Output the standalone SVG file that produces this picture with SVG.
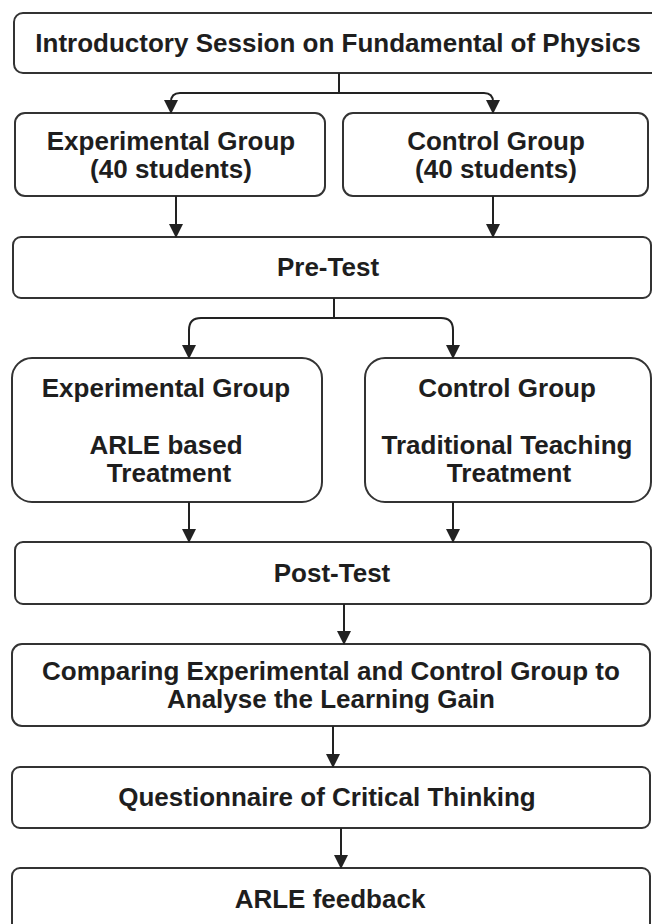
<svg xmlns="http://www.w3.org/2000/svg" width="652" height="924" viewBox="0 0 652 924">
<style>
  .box { fill: #ffffff; stroke: #333333; stroke-width: 2; }
  .lbl { font-family: "Liberation Sans", Arial, sans-serif; font-size: 26px; font-weight: bold; fill: #1e1e1e; text-anchor: middle; }
  .edge { fill: none; stroke: #222222; stroke-width: 2; }
</style>
<defs>
  <marker id="arr" viewBox="0 0 14 14" refX="13" refY="7" markerWidth="14" markerHeight="14" orient="auto" markerUnits="userSpaceOnUse">
    <path d="M0,0 L14,7 L0,14 Z" fill="#222222"/>
  </marker>
</defs>
<rect width="652" height="924" fill="#ffffff"/>

<g id="n-intro">
  <rect class="box" x="14" y="13" width="660" height="60" rx="9"/>
  <text class="lbl" x="338" y="52">Introductory Session on Fundamental of Physics</text>
</g>
<g id="n-exp1">
  <rect class="box" x="15" y="113" width="310" height="83" rx="10"/>
  <text class="lbl" x="171" y="150">Experimental Group</text>
  <text class="lbl" x="171" y="178">(40 students)</text>
</g>
<g id="n-ctl1">
  <rect class="box" x="343" y="113" width="305" height="83" rx="10"/>
  <text class="lbl" x="496" y="150">Control Group</text>
  <text class="lbl" x="496" y="178">(40 students)</text>
</g>
<g id="n-pre">
  <rect class="box" x="13" y="237" width="638" height="61" rx="8"/>
  <text class="lbl" x="328" y="276">Pre-Test</text>
</g>
<g id="n-exp2">
  <rect class="box" x="12" y="358" width="310" height="144" rx="20"/>
  <text class="lbl" x="166" y="397">Experimental Group</text>
  <text class="lbl" x="166" y="454">ARLE based</text>
  <text class="lbl" x="169" y="482">Treatment</text>
</g>
<g id="n-ctl2">
  <rect class="box" x="365" y="358" width="286" height="144" rx="20"/>
  <text class="lbl" x="507" y="397">Control Group</text>
  <text class="lbl" x="507" y="454">Traditional Teaching</text>
  <text class="lbl" x="509" y="482">Treatment</text>
</g>
<g id="n-post">
  <rect class="box" x="15" y="542" width="636" height="62" rx="8"/>
  <text class="lbl" x="332" y="582">Post-Test</text>
</g>
<g id="n-compare">
  <rect class="box" x="12" y="644" width="638" height="82" rx="10"/>
  <text class="lbl" x="331" y="680">Comparing Experimental and Control Group to</text>
  <text class="lbl" x="331" y="708">Analyse the Learning Gain</text>
</g>
<g id="n-quest">
  <rect class="box" x="12" y="767" width="638" height="61" rx="8"/>
  <text class="lbl" x="327" y="806">Questionnaire of Critical Thinking</text>
</g>
<g id="n-feedback">
  <rect class="box" x="12" y="868" width="638" height="80" rx="8"/>
  <text class="lbl" x="330" y="908">ARLE feedback</text>
</g>

<g id="connectors">
  <path class="edge" d="M339,73 V93 H180 Q171,93 171,102 V113" marker-end="url(#arr)"/>
  <path class="edge" d="M339,93 H484 Q493,93 493,102 V113" marker-end="url(#arr)"/>
  <path class="edge" d="M176,196 V237" marker-end="url(#arr)"/>
  <path class="edge" d="M493,196 V237" marker-end="url(#arr)"/>
  <path class="edge" d="M334,298 V318 H201 Q189,318 189,330 V358" marker-end="url(#arr)"/>
  <path class="edge" d="M334,318 H441 Q453,318 453,330 V358" marker-end="url(#arr)"/>
  <path class="edge" d="M189,502 V542" marker-end="url(#arr)"/>
  <path class="edge" d="M453,502 V542" marker-end="url(#arr)"/>
  <path class="edge" d="M344,604 V644" marker-end="url(#arr)"/>
  <path class="edge" d="M333,726 V767" marker-end="url(#arr)"/>
  <path class="edge" d="M341,828 V868" marker-end="url(#arr)"/>
</g>
</svg>
